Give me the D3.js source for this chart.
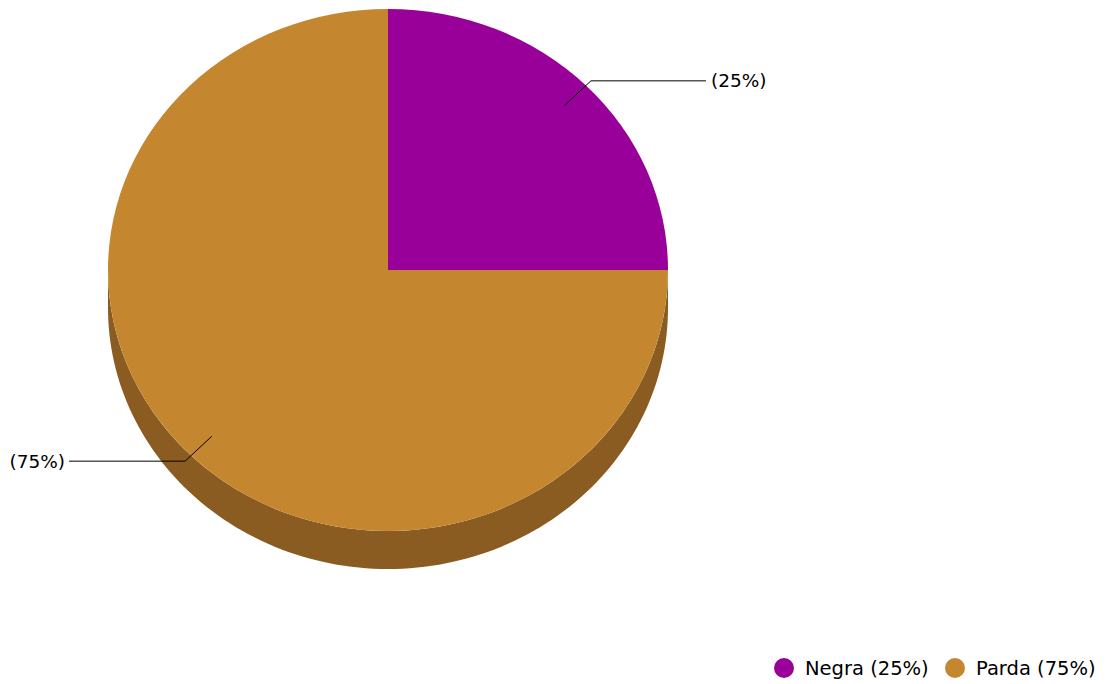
<!DOCTYPE html>
<html><head><meta charset="utf-8">
<script src="https://cdn.jsdelivr.net/npm/d3@7"></script>
<style>html,body{margin:0;padding:0;background:#fff}svg{display:block}</style>
</head><body>
<svg id="chart" width="1116" height="684"></svg>
<script>
const categories = ["Negra", "Parda"];
const values = [25, 75];
const labels = ["(25%)", "(75%)"];
const legendLabels = ["Negra (25%)", "Parda (75%)"];
const topColors = ["#990099", "#C4862F"];
const sideColors = ["#660066", "#8A5C21"];

(function () {
const cx = 388, cy = 270, rx = 280, ry = 261, depth = 38;
const font = "'DejaVu Sans', Verdana, sans-serif";
const svg = d3.select("#chart");

const pie = d3.pie().sort(null).value(d => d)(values);
const sy = ry / rx;

// Side (depth) for front half: angles in [PI/2, 3PI/2] (clockwise from top)
const sideG = svg.append("g");
const ex = a => cx + rx * Math.sin(a);
const ey = (a, off) => cy - ry * Math.cos(a) + off;
pie.forEach((p, i) => {
  const a0 = Math.max(p.startAngle, Math.PI / 2), a1 = Math.min(p.endAngle, 3 * Math.PI / 2);
  if (a1 <= a0) return;
  const steps = d3.range(0, 121).map(k => a0 + (a1 - a0) * k / 120);
  const pts = steps.map(a => [ex(a), ey(a, 0)]).concat(steps.slice().reverse().map(a => [ex(a), ey(a, depth)]));
  sideG.append("path").attr("d", d3.line()(pts) + "Z").attr("fill", sideColors[i]);
});

// Top faces
const arc = d3.arc().innerRadius(0).outerRadius(rx);
const topG = svg.append("g").attr("transform", `translate(${cx},${cy}) scale(1,${sy})`);
topG.selectAll("path").data(pie).join("path")
  .attr("d", arc).attr("fill", (d, i) => topColors[i]);

// Labels with leader lines
const lab = svg.append("g");
pie.forEach((p, i) => {
  const mid = (p.startAngle + p.endAngle) / 2;
  const s = Math.sin(mid), c = Math.cos(mid);
  const down = c < 0 ? 2 : 0;
  const p1 = [cx + rx * 0.89 * s, cy - ry * 0.89 * c + down];
  const p2 = [cx + rx * 1.025 * s, cy - ry * 1.025 * c + down];
  const right = s >= 0;
  const p3 = [p2[0] + (right ? 115 : -116), p2[1]];
  lab.append("path").attr("d", d3.line()([p1, p2, p3]))
    .attr("fill", "none").attr("stroke", "#000").attr("stroke-width", 1);
  lab.append("text").attr("x", p3[0] + (right ? 5 : -4)).attr("y", p3[1]).attr("dy", "0.35em")
    .attr("text-anchor", right ? "start" : "end")
    .attr("font-family", font).attr("font-size", 18.5).attr("fill", "#000")
    .text(labels[i]);
});

// Legend
const leg = svg.append("g");
const legX = [784, 955];
categories.forEach((c, i) => {
  leg.append("circle").attr("cx", legX[i]).attr("cy", 668).attr("r", 10).attr("fill", topColors[i]);
  leg.append("text").attr("x", legX[i] + 21).attr("y", 668).attr("dy", "0.35em")
    .attr("font-family", font).attr("font-size", 19.5).attr("fill", "#000").text(legendLabels[i]);
});
})();
</script>
</body></html>
